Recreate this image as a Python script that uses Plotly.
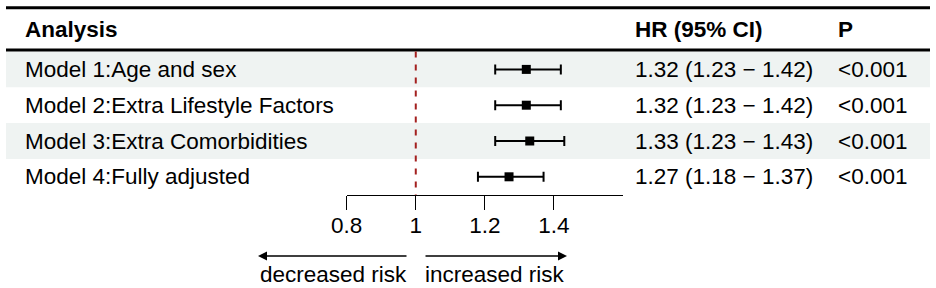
import plotly.graph_objects as go

# ---- data ----
labels = ["Model 1:Age and sex", "Model 2:Extra Lifestyle Factors",
          "Model 3:Extra Comorbidities", "Model 4:Fully adjusted"]
hr = [1.32, 1.32, 1.33, 1.27]
lo = [1.23, 1.23, 1.23, 1.18]
hi = [1.42, 1.42, 1.43, 1.37]
pvals = ["<0.001", "<0.001", "<0.001", "<0.001"]
tickvals = [0.8, 1, 1.2, 1.4]
ticktext = ["0.8", "1", "1.2", "1.4"]
x_range = [0.8, 1.6]
ref_value = 1

W, H = 936, 288
FONT = "Liberation Sans, Arial, sans-serif"
FS = 22.5

rows = list(range(len(labels)))
row0_px, row_h = 69.4, 35.8


def py(px):
    """pixel from top -> row units"""
    return (px - row0_px) / row_h


fig = go.Figure()

fig.add_trace(go.Scatter(
    x=hr, y=rows, mode="markers",
    marker=dict(symbol="square", size=9, color="black"),
    error_x=dict(type="data", symmetric=False,
                 array=[h - m for h, m in zip(hi, hr)],
                 arrayminus=[m - l for m, l in zip(hr, lo)],
                 color="black", thickness=2, width=5),
    showlegend=False, hoverinfo="skip", cliponaxis=False,
))

shapes = []
# row shading
for i in rows:
    if i % 2 == 0:
        shapes.append(dict(type="rect", xref="paper", yref="y",
                           x0=6 / W, x1=930 / W, y0=i - 0.5, y1=i + 0.5,
                           fillcolor="#eff3f2", line=dict(width=0), layer="below"))
# header rules
for ypx in (7.8, 50):
    shapes.append(dict(type="line", xref="paper", yref="y",
                       x0=6 / W, x1=930 / W, y0=py(ypx), y1=py(ypx),
                       line=dict(color="black", width=3)))
# reference line
shapes.append(dict(type="line", xref="x", yref="y", x0=ref_value, x1=ref_value,
                   y0=-0.5, y1=py(195),
                   line=dict(color="#a3201f", width=2, dash="6px,7px")))

ann = []
ann.append(dict(text="<b>Analysis</b>", x=23 / W, y=py(29.5), xref="paper", yref="y",
                xanchor="left", yanchor="middle", showarrow=False))
ann.append(dict(text="<b>HR (95% CI)</b>", x=633 / W, y=py(29.5), xref="paper", yref="y",
                xanchor="left", yanchor="middle", showarrow=False))
ann.append(dict(text="<b>P</b>", x=836 / W, y=py(29.5), xref="paper", yref="y",
                xanchor="left", yanchor="middle", showarrow=False))
for i in rows:
    ann.append(dict(text=labels[i], x=23 / W, y=i, xref="paper", yref="y",
                    xanchor="left", yanchor="middle", showarrow=False))
    ann.append(dict(text=f"{hr[i]:.2f} ({lo[i]:.2f} \u2212 {hi[i]:.2f})",
                    x=633 / W, y=i, xref="paper", yref="y",
                    xanchor="left", yanchor="middle", showarrow=False))
    ann.append(dict(text=pvals[i], x=836 / W, y=i, xref="paper", yref="y",
                    xanchor="left", yanchor="middle", showarrow=False))

# direction arrows
ya = 1 - 256 / H
ann.append(dict(text="", x=258 / W, y=ya, xref="paper", yref="paper",
                ax=150, ay=0, axref="pixel", ayref="pixel", showarrow=True,
                arrowhead=2, arrowsize=1.2, arrowwidth=1.5, arrowcolor="black"))
ann.append(dict(text="", x=567 / W, y=ya, xref="paper", yref="paper",
                ax=-143, ay=0, axref="pixel", ayref="pixel", showarrow=True,
                arrowhead=2, arrowsize=1.2, arrowwidth=1.5, arrowcolor="black"))
ann.append(dict(text="decreased risk", x=333 / W, y=1 - 274 / H, xref="paper", yref="paper",
                xanchor="center", yanchor="middle", showarrow=False))
ann.append(dict(text="increased risk", x=495 / W, y=1 - 274 / H, xref="paper", yref="paper",
                xanchor="center", yanchor="middle", showarrow=False))

fig.update_layout(
    template="none",
    width=W, height=H, margin=dict(l=0, r=0, t=0, b=0, pad=0, autoexpand=False),
    paper_bgcolor="white", plot_bgcolor="rgba(0,0,0,0)",
    font=dict(family=FONT, size=FS, color="black"),
    shapes=shapes, annotations=ann,
    xaxis=dict(domain=[346.7 / W, 623 / W], range=x_range, anchor="free",
               position=1 - 195 / H, showgrid=False, zeroline=False,
               automargin=False,
               showline=True, linecolor="black", linewidth=1,
               ticks="outside", ticklen=14, tickwidth=1, tickcolor="black",
               ticklabelstandoff=-4,
               tickvals=tickvals, ticktext=ticktext,
               tickfont=dict(family=FONT, size=FS, color="black")),
    yaxis=dict(domain=[0, 1], range=[py(H), py(0)], visible=False,
               automargin=False, showgrid=False, zeroline=False),
)

fig.write_html(
    "out.html",
    config={"displayModeBar": False, "responsive": False},
    post_script="document.body.style.margin='0';document.body.style.overflow='hidden';",
)
